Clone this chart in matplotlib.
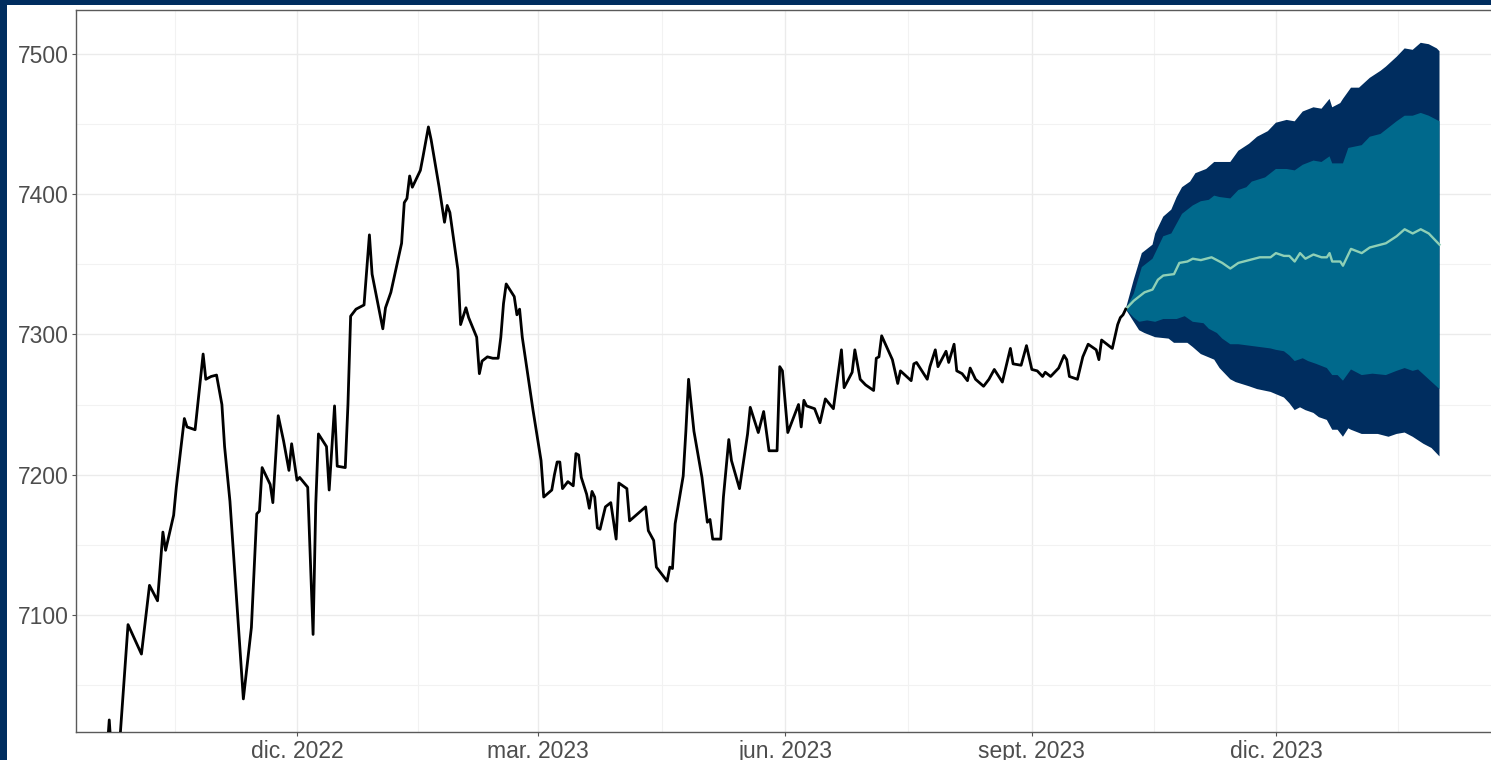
import matplotlib
matplotlib.use("Agg")
import matplotlib.pyplot as plt
import numpy as np
import pandas as pd

# observed series: days since 2022-09-01 and index level
obs_days = [20, 21, 22, 24, 28, 33, 35, 36, 39, 41, 42, 45, 46, 49, 50, 53, 56, 57, 59, 61,
            63, 64, 66, 71, 74, 76, 77, 78, 81, 82, 84, 86, 88, 89, 91, 92, 95, 97, 98, 99,
            102, 103, 105, 106, 109, 110, 111, 113, 116, 118, 119, 123, 124, 126, 130, 131, 132, 133, 134, 137,
            138, 140, 141, 144, 146, 147, 148, 150, 151, 152, 154, 155, 158, 159, 160, 162, 164, 166, 167, 168,
            169, 172, 173, 174, 175, 177, 179, 182, 183, 186, 187, 188, 189, 190, 192, 194, 195, 196, 197, 199,
            200, 201, 202, 203, 204, 206, 208, 210, 211, 214, 215, 221, 222, 224, 225, 229, 230, 231, 232, 235,
            236, 237, 239, 242, 244, 245, 246, 249, 250, 252, 253, 256, 259, 260, 263, 265, 267, 270, 271, 272,
            274, 278, 279, 280, 281, 284, 286, 288, 291, 294, 295, 298, 299, 301, 303, 306, 307, 308, 309, 313,
            315, 316, 320, 321, 322, 326, 327, 329, 330, 333, 334, 336, 337, 339, 341, 342, 344, 347, 349, 351,
            354, 357, 358, 361, 363, 365, 367, 369, 370, 372, 375, 377, 378, 379, 382, 384, 386, 389, 390, 391,
            395, 397, 398, 399, 400]
obs_values = [6998, 7025, 6995, 6985, 7093, 7072, 7105, 7121, 7110, 7159, 7146, 7171, 7191, 7240, 7234, 7232, 7286, 7268, 7270, 7271,
              7250, 7220, 7181, 7040, 7091, 7172, 7174, 7205, 7193, 7180, 7242, 7224, 7203, 7222, 7196, 7198, 7191, 7086, 7179, 7229,
              7220, 7189, 7249, 7206, 7205, 7250, 7313, 7318, 7321, 7371, 7343, 7304, 7319, 7330, 7365, 7394, 7397, 7413, 7405, 7417,
              7427, 7448, 7439, 7405, 7380, 7392, 7387, 7360, 7346, 7307, 7319, 7312, 7298, 7272, 7281, 7284, 7283, 7283, 7298, 7322,
              7336, 7327, 7314, 7318, 7298, 7272, 7246, 7210, 7184, 7189, 7200, 7209, 7209, 7190, 7195, 7192, 7215, 7214, 7198, 7186,
              7176, 7188, 7184, 7162, 7161, 7177, 7180, 7154, 7194, 7190, 7167, 7177, 7160, 7153, 7134, 7124, 7134, 7133, 7165, 7199,
              7231, 7268, 7231, 7198, 7166, 7168, 7154, 7154, 7184, 7225, 7210, 7190, 7229, 7248, 7230, 7245, 7217, 7217, 7277, 7274,
              7230, 7250, 7234, 7253, 7249, 7247, 7237, 7254, 7247, 7289, 7262, 7273, 7289, 7268, 7264, 7260, 7283, 7284, 7299, 7282,
              7265, 7274, 7267, 7279, 7280, 7268, 7277, 7289, 7277, 7288, 7280, 7293, 7274, 7272, 7267, 7276, 7268, 7263, 7268, 7275,
              7266, 7290, 7279, 7278, 7292, 7275, 7274, 7270, 7273, 7270, 7276, 7285, 7282, 7270, 7268, 7284, 7293, 7289, 7282, 7296,
              7290, 7307, 7312, 7314, 7318]

# forecast fan
outer_up_days = [400, 403, 406, 410, 411, 414, 417, 419, 421, 424, 426, 430, 433, 439, 442, 446, 449, 453, 456, 460,
                 463, 466, 470, 473, 476, 477, 480, 481, 484, 487, 491, 495, 497, 501, 504, 507, 510, 513, 516, 517]
outer_up = [7318, 7339, 7358, 7364, 7372, 7384, 7389, 7398, 7405, 7409, 7415, 7418, 7423, 7423, 7431, 7436, 7441, 7445, 7451, 7453,
            7452, 7459, 7462, 7461, 7468, 7462, 7465, 7468, 7476, 7476, 7483, 7488, 7491, 7498, 7504, 7503, 7508, 7507, 7504, 7502]
inner_up_days = [400, 403, 406, 410, 412, 414, 417, 421, 425, 428, 431, 433, 435, 439, 442, 445, 447, 452, 456, 460,
                 463, 466, 470, 473, 476, 477, 481, 483, 488, 491, 495, 497, 501, 504, 507, 510, 513, 517]
inner_up = [7318, 7329, 7348, 7354, 7362, 7370, 7372, 7386, 7392, 7395, 7396, 7399, 7398, 7397, 7403, 7405, 7409, 7412, 7418, 7418,
            7417, 7421, 7424, 7423, 7427, 7422, 7422, 7433, 7435, 7441, 7443, 7446, 7452, 7456, 7456, 7458, 7456, 7452]
median_days = [400, 403, 407, 410, 412, 414, 418, 420, 423, 425, 428, 432, 436, 439, 442, 446, 450, 454, 456, 459,
               461, 463, 465, 467, 470, 473, 475, 476, 477, 480, 481, 484, 488, 491, 495, 497, 501, 504, 507, 510,
               513, 515, 517]
median = [7318, 7324, 7330, 7332, 7339, 7342, 7343, 7351, 7352, 7354, 7353, 7355, 7351, 7347, 7351, 7353, 7355, 7355, 7358, 7356,
          7356, 7352, 7358, 7354, 7357, 7355, 7355, 7358, 7352, 7352, 7349, 7361, 7358, 7362, 7364, 7365, 7370, 7375, 7372, 7375,
          7372, 7368, 7364]
inner_lo_days = [400, 403, 405, 408, 411, 414, 419, 422, 425, 429, 431, 434, 436, 439, 442, 446, 450, 454, 456, 459,
                 461, 463, 466, 468, 471, 475, 477, 479, 481, 484, 488, 492, 497, 501, 504, 507, 509, 513, 517]
inner_lo = [7318, 7312, 7309, 7310, 7309, 7311, 7311, 7313, 7309, 7308, 7304, 7301, 7297, 7293, 7293, 7292, 7291, 7290, 7289, 7288,
            7285, 7281, 7283, 7281, 7279, 7276, 7271, 7271, 7267, 7275, 7271, 7272, 7271, 7274, 7276, 7274, 7275, 7268, 7261]
outer_lo_days = [400, 401, 405, 407, 411, 416, 418, 423, 425, 428, 433, 435, 439, 441, 446, 449, 454, 459, 461, 463,
                 465, 467, 470, 472, 475, 477, 479, 481, 483, 484, 488, 494, 498, 501, 504, 507, 511, 514, 517]
outer_lo = [7318, 7315, 7303, 7301, 7298, 7297, 7294, 7294, 7291, 7286, 7282, 7276, 7268, 7266, 7263, 7261, 7259, 7255, 7251, 7246,
            7248, 7246, 7244, 7241, 7239, 7232, 7232, 7227, 7233, 7232, 7229, 7229, 7227, 7229, 7230, 7227, 7222, 7219, 7213]

tick_dates = ["2022-12-01", "2023-03-01", "2023-06-01", "2023-09-01", "2023-12-01"]
tick_labels = ["dic. 2022", "mar. 2023", "jun. 2023", "sept. 2023", "dic. 2023"]

navy = "#002D5F"
teal = "#00698C"
mint = "#8FD0B6"

base = pd.Timestamp("2022-09-01")


def to_dates(days):
    return base + pd.to_timedelta(np.asarray(days, dtype=float), unit="D")


plt.rcParams["font.family"] = ["Liberation Sans", "DejaVu Sans"]

fig = plt.figure(figsize=(14.91, 7.60), dpi=100, facecolor=navy)
fig.patches.append(plt.Rectangle((7 / 1491, 0), 1, 1 - 5 / 760, transform=fig.transFigure,
                                 facecolor="white", edgecolor="none", zorder=-10))

ax = fig.add_axes([76 / 1491, 28 / 760, 1 - 76 / 1491, 722 / 760])
ax.set_zorder(1)
ax.set_facecolor("white")

# fan chart: outer band, inner band, median
ax.fill(np.concatenate([to_dates(outer_up_days), to_dates(outer_lo_days)[::-1]]),
        np.concatenate([outer_up, outer_lo[::-1]]), color=navy, lw=0, zorder=2)
ax.fill(np.concatenate([to_dates(inner_up_days), to_dates(inner_lo_days)[::-1]]),
        np.concatenate([inner_up, inner_lo[::-1]]), color=teal, lw=0, zorder=3)
ax.plot(to_dates(median_days), median, color=mint, lw=1.7, zorder=4)
ax.plot(to_dates(obs_days), obs_values, color="black", lw=2.0, zorder=5)

ax.set_xlim(base + pd.Timedelta(days=8.6), base + pd.Timedelta(days=536.2))
ax.set_ylim(7016.4, 7531.4)

major = pd.to_datetime(tick_dates)
ax.set_xticks(major)
ax.set_xticklabels(tick_labels)
minor = [major[0] - (major[0] - pd.Timestamp("2022-09-01")) / 2]
minor += [major[i] + (major[i + 1] - major[i]) / 2 for i in range(len(major) - 1)]
minor += [major[-1] + (pd.Timestamp("2024-03-01") - major[-1]) / 2]
ax.set_xticks(minor, minor=True)

ax.set_yticks([7100, 7200, 7300, 7400, 7500])
ax.set_yticks([7050, 7150, 7250, 7350, 7450], minor=True)

ax.grid(which="major", color="#EBEBEB", lw=1.0, zorder=0)
ax.grid(which="minor", color="#F2F2F2", lw=0.8, zorder=0)
ax.set_axisbelow(True)

ax.tick_params(which="major", length=3, width=0.8, color="#555555", labelcolor="#4D4D4D",
               labelsize=16.5, pad=2.5)
ax.tick_params(which="minor", length=0)
for side in ["top", "left", "bottom"]:
    ax.spines[side].set_color("#5A5A5A")
    ax.spines[side].set_linewidth(1.0)
ax.spines["right"].set_visible(False)

fig.savefig("out.png", dpi=100, facecolor=navy)
